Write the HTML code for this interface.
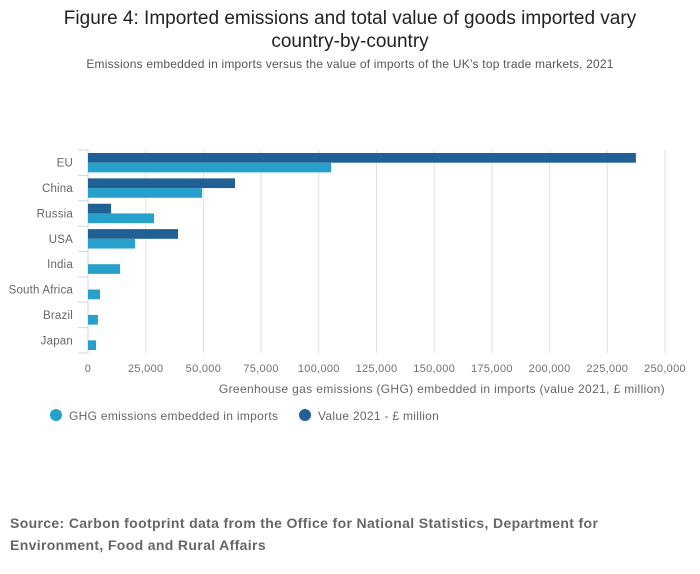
<!DOCTYPE html>
<html><head><meta charset="utf-8"><style>
body{margin:0;background:#fff;font-family:"Liberation Sans","DejaVu Sans",sans-serif;}
#wrap{position:relative;width:700px;height:574px;overflow:hidden;}
.t{position:absolute;left:0;width:700px;text-align:center;color:#222;}
</style></head><body>
<div id="wrap">
<div class="t" style="top:7px;font-size:19px;line-height:23px;">Figure 4: Imported emissions and total value of goods imported vary<br>country-by-country</div>
<div class="t" style="top:57px;font-size:12px;color:#555;letter-spacing:0.2px;">Emissions embedded in imports versus the value of imports of the UK’s top trade markets, 2021</div>
<svg id="chart" width="700" height="440" style="position:absolute;left:0;top:0"></svg>
<div style="position:absolute;left:10px;top:512px;font-size:14px;font-weight:bold;color:#666;line-height:22px;letter-spacing:0.35px;">Source: Carbon footprint data from the Office for National Statistics, Department for<br>Environment, Food and Rural Affairs</div>
</div>
<script>
const categories=["EU","China","Russia","USA","India","South Africa","Brazil","Japan"];
const ghgValues=[105300,49400,28600,20400,13900,5200,4300,3500];
const valueGBP=[237400,63700,10000,39000,0,0,0,0];
const tickValues=[0,25000,50000,75000,100000,125000,150000,175000,200000,225000,250000];
const tickLabels=["0","25,000","50,000","75,000","100,000","125,000","150,000","175,000","200,000","225,000","250,000"];

const NS="http://www.w3.org/2000/svg";
const svg=document.getElementById("chart");
const x0=88,x1=665,yTop=150,yBot=353;
const xMax=250000;
const band=(yBot-yTop)/categories.length;
function xs(v){return x0+(v/xMax)*(x1-x0);}
function yb(i){return yTop+i*band;}
function mk(tag,attrs){const e=document.createElementNS(NS,tag);for(const k in attrs)e.setAttribute(k,attrs[k]);svg.appendChild(e);return e;}

tickValues.forEach((v,i)=>{
  if(i>0){const g=mk("line",{x1:xs(v),x2:xs(v),y1:yTop,y2:yBot,stroke:"#e0e0e0","stroke-width":1});
  
  }
  const t=mk("text",{x:xs(v),y:372,"text-anchor":"middle","font-size":11,fill:"#707070","letter-spacing":0.3});
  t.textContent=tickLabels[i];
  
  
});
const ax=mk("line",{x1:x0,x2:x0,y1:yTop,y2:yBot,stroke:"#ccd6eb","stroke-width":1});


for(let i=0;i<=categories.length;i++){
  const tk=mk("line",{x1:78,x2:x0,y1:yb(i),y2:yb(i),stroke:"#ccd6eb","stroke-width":1});
  
  
}
const bh=9.7;
categories.forEach((c,i)=>{
  const cy=yb(i)+band/2;
  const l=mk("text",{x:73,y:cy+4,"text-anchor":"end","font-size":11.5,fill:"#666","letter-spacing":0.2});
  l.textContent=c;
  
  
  if(valueGBP[i]>0){
    const b=mk("rect",{x:x0,y:cy-bh,width:xs(valueGBP[i])-x0,height:bh,fill:"#206095"});
    
    
  }
  const b2=mk("rect",{x:x0,y:cy,width:xs(ghgValues[i])-x0,height:bh,fill:"#27a0cc"});
  
  
});
const xt=mk("text",{x:665,y:393,"text-anchor":"end","font-size":12,fill:"#666","letter-spacing":0.35});
xt.textContent="Greenhouse gas emissions (GHG) embedded in imports (value 2021, £ million)";


const lg=[["#27a0cc","GHG emissions embedded in imports",56,69],["#206095","Value 2021 - £ million",305,318]];
lg.forEach(e=>{
  const c=mk("circle",{cx:e[2],cy:415,r:6,fill:e[0]});
  
  
  const t=mk("text",{x:e[3],y:420,"font-size":12,fill:"#666","letter-spacing":0.3});
  t.textContent=e[1];
  
  
});
</script>
</body></html>
